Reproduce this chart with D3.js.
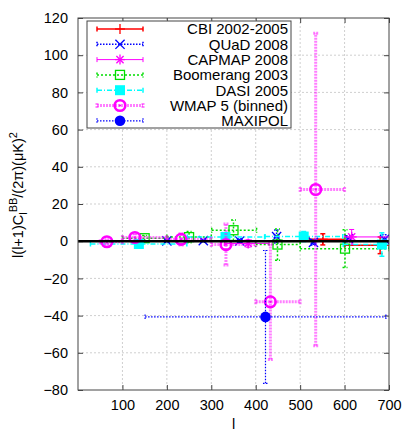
<!DOCTYPE html>
<html>
<head>
<meta charset="utf-8">
<script src="https://cdn.jsdelivr.net/npm/d3@7"></script>
<style>
  body { margin: 0; background: #fff; }
  text { font-family: "Liberation Sans", Arial, sans-serif; }
</style>
</head>
<body>
<svg id="chart" width="416" height="436"></svg>
<script>

// --- data ---
const cbiL    = [ 551, 680 ];
const cbiLo   = [ 520, 600 ];
const cbiHi   = [ 600, 760 ];
const cbiV    = [ 1.0, -2.2 ];
const cbiErr  = [ 3.0, 4.5 ];

const quadL   = [ 200, 282, 364, 447, 530, 609, 690 ];
const quadLo  = [ 195, 277, 359, 442, 525, 604, 685 ];
const quadHi  = [ 205, 287, 369, 452, 535, 614, 695 ];
const quadV   = [ 0.2, 0.3, 0.1, 2.5, -0.6, 1.3, 1.0 ];
const quadErr = [ 0.5, 0.8, 1.2, 3.5, 1.5, 1.6, 2.5 ];

const capL    = [ 383, 616 ];
const capLo   = [ 330, 600 ];
const capHi   = [ 430, 800 ];
const capV    = [ -1.2, 2.3 ];
const capErr  = [ 2.0, 4.0 ];

const boomL   = [ 150, 250, 350, 449, 601 ];
const boomLo  = [ 100, 200, 301, 400, 500 ];
const boomHi  = [ 200, 300, 402, 500, 700 ];
const boomV   = [ 1.6, 2.2, 5.9, -1.8, -4.0 ];
const boomErr = [ 1.5, 3.0, 5.5, 8.4, 10.2 ];

const dasiL   = [ 137, 332, 508, 684 ];
const dasiLo  = [ 28, 246, 421, 597 ];
const dasiHi  = [ 245, 420, 596, 772 ];
const dasiV   = [ -1.5, 2.3, 2.5, -1.8 ];
const dasiErr = [ 1.0, 2.0, 2.7, 6.3 ];

const wmapL   = [ 65, 128, 232, 333, 433, 535 ];
const wmapLo  = [ 50, 100, 200, 300, 400, 500 ];
const wmapHi  = [ 100, 200, 300, 400, 500, 600 ];
const wmapV   = [ -0.3, 2.0, 1.0, -1.8, -32.6, 27.8 ];
const wmapErr = [ 1.5, 2.0, 3.0, 11.0, 31.0, 84.0 ];

const maxiL   = [ 422 ];
const maxiLo  = [ 151 ];
const maxiHi  = [ 693 ];
const maxiV   = [ -40.7 ];
const maxiErr = [ 35.7 ];

const xTicks = [ 100, 200, 300, 400, 500, 600, 700 ];
const yTicks = [ -80, -60, -40, -20, 0, 20, 40, 60, 80, 100, 120 ];

function rows( L, lo, hi, V, E ) {
  return L.map( ( l, i ) => ( { l: l, lo: lo[ i ], hi: hi[ i ], v: V[ i ], e: E[ i ] } ) );
}

const series = [
  { name: "CBI 2002-2005",    color: "#ff0000", sym: "plus",   width: 1.5, dash: null,      op: 1,   data: rows( cbiL, cbiLo, cbiHi, cbiV, cbiErr ) },
  { name: "QUaD 2008",        color: "#0000ff", sym: "cross",  width: 1.5, dash: "1.5,1.5", op: 1,   data: rows( quadL, quadLo, quadHi, quadV, quadErr ) },
  { name: "CAPMAP 2008",      color: "#ff00ff", sym: "star",   width: 1,   dash: null,      op: 1,   data: rows( capL, capLo, capHi, capV, capErr ) },
  { name: "Boomerang 2003",   color: "#00dd00", sym: "square", width: 1.5, dash: "2,2",     op: 1,   data: rows( boomL, boomLo, boomHi, boomV, boomErr ) },
  { name: "DASI 2005",        color: "#00ffff", sym: "fsquare",width: 1.5, dash: "5,2,1,2", op: 1,   data: rows( dasiL, dasiLo, dasiHi, dasiV, dasiErr ) },
  { name: "WMAP 5 (binned)",  color: "#ff00ff", sym: "ring",   width: 3,   dash: "2,1",     op: 0.5, data: rows( wmapL, wmapLo, wmapHi, wmapV, wmapErr ) },
  { name: "MAXIPOL",          color: "#0000ff", sym: "dot",    width: 1.2, dash: "1.5,1.5", op: 1,   data: rows( maxiL, maxiLo, maxiHi, maxiV, maxiErr ) }
];

// --- layout ---
const pLeft = 78, pRight = 389, pTop = 18, pBottom = 390;

const svg = d3.select( "#chart" );

const x = d3.scaleLinear().domain( [ 0, 700 ] ).range( [ pLeft, pRight ] );
const y = d3.scaleLinear().domain( [ -80, 120 ] ).range( [ pBottom, pTop ] );

svg.append( "defs" ).append( "clipPath" )
    .attr( "id", "plotclip" )
  .append( "rect" )
    .attr( "x", pLeft ).attr( "y", pTop )
    .attr( "width", pRight - pLeft ).attr( "height", pBottom - pTop );

// grid
const grid = svg.append( "g" )
  .attr( "stroke", "#cfcfcf" )
  .attr( "stroke-width", 1 )
  .attr( "stroke-dasharray", "2,2" );

grid.selectAll( "line.gx" )
  .data( xTicks.filter( t => t < 700 ) )
  .enter().append( "line" )
    .attr( "class", "gx" )
    .attr( "x1", d => x( d ) ).attr( "x2", d => x( d ) )
    .attr( "y1", pTop ).attr( "y2", pBottom );

grid.selectAll( "line.gy" )
  .data( yTicks.filter( t => t > -80 && t < 120 ) )
  .enter().append( "line" )
    .attr( "class", "gy" )
    .attr( "x1", pLeft ).attr( "x2", pRight )
    .attr( "y1", d => y( d ) ).attr( "y2", d => y( d ) );

// axes (ticks inward, mirrored)
const axisStyle = g => {
  g.select( ".domain" ).remove();
  g.selectAll( ".tick line" ).attr( "stroke", "#444" );
  g.selectAll( "text" ).attr( "font-size", 14.5 ).attr( "fill", "#000" )
    .style( "font-family", "'Liberation Sans', Arial, sans-serif" );
};

svg.append( "g" )
  .attr( "transform", "translate(0," + pBottom + ")" )
  .call( d3.axisBottom( x ).tickValues( xTicks ).tickSizeInner( -5 ).tickSizeOuter( 0 ).tickPadding( 10 ) )
  .call( axisStyle );

svg.append( "g" )
  .attr( "transform", "translate(0," + pTop + ")" )
  .call( d3.axisTop( x ).tickValues( xTicks ).tickSizeInner( -5 ).tickSizeOuter( 0 ).tickFormat( "" ) )
  .call( axisStyle );

svg.append( "g" )
  .attr( "transform", "translate(" + pLeft + ",0)" )
  .call( d3.axisLeft( y ).tickValues( yTicks ).tickSizeInner( -5 ).tickSizeOuter( 0 ).tickPadding( 10 ) )
  .call( axisStyle );

svg.append( "g" )
  .attr( "transform", "translate(" + pRight + ",0)" )
  .call( d3.axisRight( y ).tickValues( yTicks ).tickSizeInner( -5 ).tickSizeOuter( 0 ).tickFormat( "" ) )
  .call( axisStyle );

// --- symbols ---
function drawSymbol( g, sym, cx, cy, color ) {
  const r = 5;
  if ( sym === "plus" || sym === "star" ) {
    g.append( "line" ).attr( "x1", cx - r ).attr( "x2", cx + r ).attr( "y1", cy ).attr( "y2", cy )
      .attr( "stroke", color ).attr( "stroke-width", 1.3 );
    g.append( "line" ).attr( "x1", cx ).attr( "x2", cx ).attr( "y1", cy - r ).attr( "y2", cy + r )
      .attr( "stroke", color ).attr( "stroke-width", 1.3 );
  }
  if ( sym === "cross" || sym === "star" ) {
    const k = sym === "star" ? 3.6 : 4.6;
    g.append( "line" ).attr( "x1", cx - k ).attr( "x2", cx + k ).attr( "y1", cy - k ).attr( "y2", cy + k )
      .attr( "stroke", color ).attr( "stroke-width", 1.3 );
    g.append( "line" ).attr( "x1", cx - k ).attr( "x2", cx + k ).attr( "y1", cy + k ).attr( "y2", cy - k )
      .attr( "stroke", color ).attr( "stroke-width", 1.3 );
  }
  if ( sym === "square" ) {
    g.append( "rect" ).attr( "x", cx - 4.5 ).attr( "y", cy - 4.5 ).attr( "width", 9 ).attr( "height", 9 )
      .attr( "fill", "none" ).attr( "stroke", color ).attr( "stroke-width", 1.3 );
  }
  if ( sym === "fsquare" ) {
    g.append( "rect" ).attr( "x", cx - 5 ).attr( "y", cy - 5 ).attr( "width", 10 ).attr( "height", 10 )
      .attr( "fill", color );
  }
  if ( sym === "ring" ) {
    g.append( "circle" ).attr( "cx", cx ).attr( "cy", cy ).attr( "r", 5.3 )
      .attr( "fill", "none" ).attr( "stroke", color ).attr( "stroke-width", 2.6 );
    g.append( "circle" ).attr( "cx", cx ).attr( "cy", cy ).attr( "r", 1.1 ).attr( "fill", color );
  }
  if ( sym === "dot" ) {
    g.append( "circle" ).attr( "cx", cx ).attr( "cy", cy ).attr( "r", 5.3 ).attr( "fill", color );
  }
}

function errLine( g, s, x1, y1, x2, y2 ) {
  g.append( "line" )
    .attr( "x1", x1 ).attr( "y1", y1 ).attr( "x2", x2 ).attr( "y2", y2 )
    .attr( "stroke", s.color )
    .attr( "stroke-width", s.width )
    .attr( "stroke-opacity", s.op )
    .attr( "stroke-dasharray", s.dash );
}

// --- error bars and points ---
const plot = svg.append( "g" ).attr( "clip-path", "url(#plotclip)" );
const cap = 2.5;

series.forEach( s => {
  const g = plot.append( "g" ).attr( "class", "series" );
  s.data.forEach( d => {
    const px = x( d.l ), py = y( d.v );
    const xl = x( d.lo ), xh = x( d.hi );
    const yl = y( d.v - d.e ), yh = y( d.v + d.e );
    errLine( g, s, xl, py, xh, py );
    errLine( g, s, xl, py - cap, xl, py + cap );
    errLine( g, s, xh, py - cap, xh, py + cap );
    errLine( g, s, px, yl, px, yh );
    errLine( g, s, px - cap, yl, px + cap, yl );
    errLine( g, s, px - cap, yh, px + cap, yh );
    drawSymbol( g, s.sym, px, py, s.color );
  } );
} );

// zero line
svg.append( "line" )
  .attr( "x1", pLeft ).attr( "x2", pRight )
  .attr( "y1", y( 0 ) ).attr( "y2", y( 0 ) )
  .attr( "stroke", "#000" )
  .attr( "stroke-width", 2.5 );

// border
svg.append( "rect" )
  .attr( "x", pLeft ).attr( "y", pTop )
  .attr( "width", pRight - pLeft ).attr( "height", pBottom - pTop )
  .attr( "fill", "none" )
  .attr( "stroke", "#444" )
  .attr( "stroke-width", 1 );

// --- legend ---
const lg = svg.append( "g" ).attr( "class", "legend" );

lg.append( "rect" )
  .attr( "x", 87 ).attr( "y", 21 )
  .attr( "width", 204 ).attr( "height", 107 )
  .attr( "fill", "#fff" )
  .attr( "stroke", "#444" )
  .attr( "stroke-width", 1 );

series.forEach( ( s, i ) => {
  const ry = 29 + i * 15.3;
  const g = lg.append( "g" );
  errLine( g, s, 97, ry, 143, ry );
  errLine( g, s, 97, ry - cap, 97, ry + cap );
  errLine( g, s, 143, ry - cap, 143, ry + cap );
  drawSymbol( g, s.sym, 120, ry, s.color );
  g.append( "text" )
    .attr( "x", 288 ).attr( "y", ry )
    .attr( "dy", "0.36em" )
    .attr( "text-anchor", "end" )
    .attr( "font-size", 15 )
    .text( s.name );
} );

// --- axis titles ---
svg.append( "text" )
  .attr( "x", ( pLeft + pRight ) / 2 ).attr( "y", 429 )
  .attr( "text-anchor", "middle" )
  .attr( "font-size", 14.5 )
  .text( "l" );

const yt = svg.append( "text" )
  .attr( "transform", "translate(23,195) rotate(-90)" )
  .attr( "text-anchor", "middle" )
  .attr( "font-size", 14.5 );
yt.append( "tspan" ).text( "l(l+1)C" );
yt.append( "tspan" ).attr( "dy", 4 ).attr( "font-size", 11 ).text( "l" );
yt.append( "tspan" ).attr( "dy", -10 ).attr( "font-size", 11 ).text( "BB" );
yt.append( "tspan" ).attr( "dy", 6 ).text( "/(2π)(μK)" );
yt.append( "tspan" ).attr( "dy", -6 ).attr( "font-size", 11 ).text( "2" );

</script>
</body>
</html>
